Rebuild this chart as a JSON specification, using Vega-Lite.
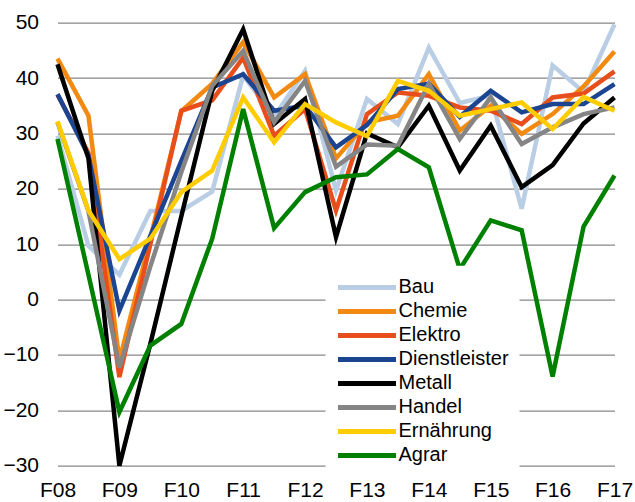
{
  "$schema": "https://vega.github.io/schema/vega-lite/v6.json",
  "width": 557,
  "height": 443,
  "autosize": "none",
  "padding": {"left": 57.5, "top": 22.7, "right": 20.5, "bottom": 36.3},
  "background": "white",
  "config": {"view": {"stroke": null}, "font": "Liberation Sans"},
  "data": {"values": [
    {"s":"Bau","t":2008,"v":29.6},{"s":"Bau","t":2008.5,"v":9.7},{"s":"Bau","t":2009,"v":4.5},{"s":"Bau","t":2009.5,"v":16},{"s":"Bau","t":2010,"v":16},{"s":"Bau","t":2010.5,"v":19.5},{"s":"Bau","t":2011,"v":40.5},{"s":"Bau","t":2011.5,"v":33},{"s":"Bau","t":2012,"v":41.3},{"s":"Bau","t":2012.5,"v":19.7},{"s":"Bau","t":2013,"v":36.2},{"s":"Bau","t":2013.5,"v":31.7},{"s":"Bau","t":2014,"v":45.5},{"s":"Bau","t":2014.5,"v":35.5},{"s":"Bau","t":2015,"v":36.8},{"s":"Bau","t":2015.5,"v":16.4},{"s":"Bau","t":2016,"v":42.3},{"s":"Bau","t":2016.5,"v":37.5},{"s":"Bau","t":2017,"v":49.7},
    {"s":"Chemie","t":2008,"v":43.5},{"s":"Chemie","t":2008.5,"v":33.2},{"s":"Chemie","t":2009,"v":-11},{"s":"Chemie","t":2009.5,"v":11},{"s":"Chemie","t":2010,"v":34},{"s":"Chemie","t":2010.5,"v":39},{"s":"Chemie","t":2011,"v":46.5},{"s":"Chemie","t":2011.5,"v":36.5},{"s":"Chemie","t":2012,"v":40.7},{"s":"Chemie","t":2012.5,"v":25.5},{"s":"Chemie","t":2013,"v":32},{"s":"Chemie","t":2013.5,"v":33.2},{"s":"Chemie","t":2014,"v":40.7},{"s":"Chemie","t":2014.5,"v":30.5},{"s":"Chemie","t":2015,"v":35},{"s":"Chemie","t":2015.5,"v":29.9},{"s":"Chemie","t":2016,"v":33.5},{"s":"Chemie","t":2016.5,"v":38.5},{"s":"Chemie","t":2017,"v":44.8},
    {"s":"Elektro","t":2008,"v":37},{"s":"Elektro","t":2008.5,"v":26.5},{"s":"Elektro","t":2009,"v":-14},{"s":"Elektro","t":2009.5,"v":10},{"s":"Elektro","t":2010,"v":34.1},{"s":"Elektro","t":2010.5,"v":36},{"s":"Elektro","t":2011,"v":43.7},{"s":"Elektro","t":2011.5,"v":29.6},{"s":"Elektro","t":2012,"v":34.4},{"s":"Elektro","t":2012.5,"v":16.1},{"s":"Elektro","t":2013,"v":33.5},{"s":"Elektro","t":2013.5,"v":37.4},{"s":"Elektro","t":2014,"v":36.8},{"s":"Elektro","t":2014.5,"v":34.7},{"s":"Elektro","t":2015,"v":34.1},{"s":"Elektro","t":2015.5,"v":31.7},{"s":"Elektro","t":2016,"v":36.5},{"s":"Elektro","t":2016.5,"v":37.2},{"s":"Elektro","t":2017,"v":41.2},
    {"s":"Dienstleister","t":2008,"v":37.1},{"s":"Dienstleister","t":2008.5,"v":26},{"s":"Dienstleister","t":2009,"v":-2},{"s":"Dienstleister","t":2009.5,"v":11.5},{"s":"Dienstleister","t":2010,"v":25},{"s":"Dienstleister","t":2010.5,"v":38.3},{"s":"Dienstleister","t":2011,"v":40.7},{"s":"Dienstleister","t":2011.5,"v":34.1},{"s":"Dienstleister","t":2012,"v":35},{"s":"Dienstleister","t":2012.5,"v":27.5},{"s":"Dienstleister","t":2013,"v":31.5},{"s":"Dienstleister","t":2013.5,"v":38},{"s":"Dienstleister","t":2014,"v":39},{"s":"Dienstleister","t":2014.5,"v":33},{"s":"Dienstleister","t":2015,"v":37.7},{"s":"Dienstleister","t":2015.5,"v":33.8},{"s":"Dienstleister","t":2016,"v":35.3},{"s":"Dienstleister","t":2016.5,"v":35.3},{"s":"Dienstleister","t":2017,"v":38.9},
    {"s":"Metall","t":2008,"v":42.5},{"s":"Metall","t":2008.5,"v":25.5},{"s":"Metall","t":2009,"v":-30},{"s":"Metall","t":2009.5,"v":-8},{"s":"Metall","t":2010,"v":15},{"s":"Metall","t":2010.5,"v":37.7},{"s":"Metall","t":2011,"v":48.8},{"s":"Metall","t":2011.5,"v":31.7},{"s":"Metall","t":2012,"v":36.2},{"s":"Metall","t":2012.5,"v":11.3},{"s":"Metall","t":2013,"v":30},{"s":"Metall","t":2013.5,"v":27.5},{"s":"Metall","t":2014,"v":35},{"s":"Metall","t":2014.5,"v":23.3},{"s":"Metall","t":2015,"v":31.4},{"s":"Metall","t":2015.5,"v":20.3},{"s":"Metall","t":2016,"v":24.3},{"s":"Metall","t":2016.5,"v":31.8},{"s":"Metall","t":2017,"v":36.5},
    {"s":"Handel","t":2008,"v":32},{"s":"Handel","t":2008.5,"v":16},{"s":"Handel","t":2009,"v":-12.3},{"s":"Handel","t":2009.5,"v":6},{"s":"Handel","t":2010,"v":23},{"s":"Handel","t":2010.5,"v":38.6},{"s":"Handel","t":2011,"v":44.9},{"s":"Handel","t":2011.5,"v":32},{"s":"Handel","t":2012,"v":39.5},{"s":"Handel","t":2012.5,"v":24},{"s":"Handel","t":2013,"v":28},{"s":"Handel","t":2013.5,"v":27.8},{"s":"Handel","t":2014,"v":39},{"s":"Handel","t":2014.5,"v":29},{"s":"Handel","t":2015,"v":36.5},{"s":"Handel","t":2015.5,"v":28.1},{"s":"Handel","t":2016,"v":31.1},{"s":"Handel","t":2016.5,"v":33.5},{"s":"Handel","t":2017,"v":34.7},
    {"s":"Ernährung","t":2008,"v":32.2},{"s":"Ernährung","t":2008.5,"v":16.1},{"s":"Ernährung","t":2009,"v":7.3},{"s":"Ernährung","t":2009.5,"v":11},{"s":"Ernährung","t":2010,"v":19.4},{"s":"Ernährung","t":2010.5,"v":23.3},{"s":"Ernährung","t":2011,"v":36.5},{"s":"Ernährung","t":2011.5,"v":28.4},{"s":"Ernährung","t":2012,"v":35.3},{"s":"Ernährung","t":2012.5,"v":32},{"s":"Ernährung","t":2013,"v":29.5},{"s":"Ernährung","t":2013.5,"v":39.5},{"s":"Ernährung","t":2014,"v":37.7},{"s":"Ernährung","t":2014.5,"v":33.2},{"s":"Ernährung","t":2015,"v":34.4},{"s":"Ernährung","t":2015.5,"v":35.6},{"s":"Ernährung","t":2016,"v":30.8},{"s":"Ernährung","t":2016.5,"v":36.6},{"s":"Ernährung","t":2017,"v":34.1},
    {"s":"Agrar","t":2008,"v":29},{"s":"Agrar","t":2008.5,"v":4.5},{"s":"Agrar","t":2009,"v":-20.3},{"s":"Agrar","t":2009.5,"v":-8.3},{"s":"Agrar","t":2010,"v":-4.4},{"s":"Agrar","t":2010.5,"v":11},{"s":"Agrar","t":2011,"v":34.4},{"s":"Agrar","t":2011.5,"v":12.9},{"s":"Agrar","t":2012,"v":19.4},{"s":"Agrar","t":2012.5,"v":22.1},{"s":"Agrar","t":2013,"v":22.6},{"s":"Agrar","t":2013.5,"v":27.2},{"s":"Agrar","t":2014,"v":23.9},{"s":"Agrar","t":2014.5,"v":5.5},{"s":"Agrar","t":2015,"v":14.3},{"s":"Agrar","t":2015.5,"v":12.5},{"s":"Agrar","t":2016,"v":-13.9},{"s":"Agrar","t":2016.5,"v":13.2},{"s":"Agrar","t":2017,"v":22.4}
  ]},
  "mark": {"type": "line", "strokeWidth": 4.5, "clip": false},
  "encoding": {
    "x": {
      "field": "t", "type": "quantitative",
      "scale": {"domain": [2008, 2017], "nice": false, "zero": false},
      "axis": {
        "title": null, "values": [2008,2009,2010,2011,2012,2013,2014,2015,2016,2017],
        "format": "d", "labelExpr": "'F' + slice(datum.label, 2)",
        "labelFlush": false, "labelOverlap": false,
        "grid": false, "ticks": false, "domain": false,
        "labelFontSize": 21, "labelColor": "#000000", "labelPadding": 14, "labelFont": "Liberation Sans"
      }
    },
    "y": {
      "field": "v", "type": "quantitative",
      "scale": {"domain": [-30, 50], "nice": false, "zero": false},
      "axis": {
        "title": null, "values": [-30,-20,-10,0,10,20,30,40,50],
        "grid": true, "gridColor": "#878787", "gridWidth": 1.2, "gridOpacity": 1,
        "ticks": false, "domain": false, "labelFlush": false,
        "labelFontSize": 21, "labelColor": "#000000", "labelPadding": 19, "labelFont": "Liberation Sans"
      }
    },
    "color": {
      "field": "s", "type": "nominal",
      "sort": ["Bau","Chemie","Elektro","Dienstleister","Metall","Handel","Ernährung","Agrar"],
      "scale": {
        "domain": ["Bau","Chemie","Elektro","Dienstleister","Metall","Handel","Ernährung","Agrar"],
        "range": ["#B9CDE5","#F28A12","#E84E1B","#1B4591","#000000","#858585","#FFCC00","#008000"]
      },
      "legend": {
        "title": null, "orient": "none", "legendX": 268, "legendY": 243,
        "fillColor": "white", "padding": 10,
        "symbolType": "stroke", "symbolSize": 3364, "symbolStrokeWidth": 5,
        "clipHeight": 23.5,
        "labelFontSize": 20, "labelFont": "Liberation Sans", "labelColor": "#000000",
        "labelOffset": 0, "rowPadding": 0, "labelLimit": 300
      }
    }
  }
}
